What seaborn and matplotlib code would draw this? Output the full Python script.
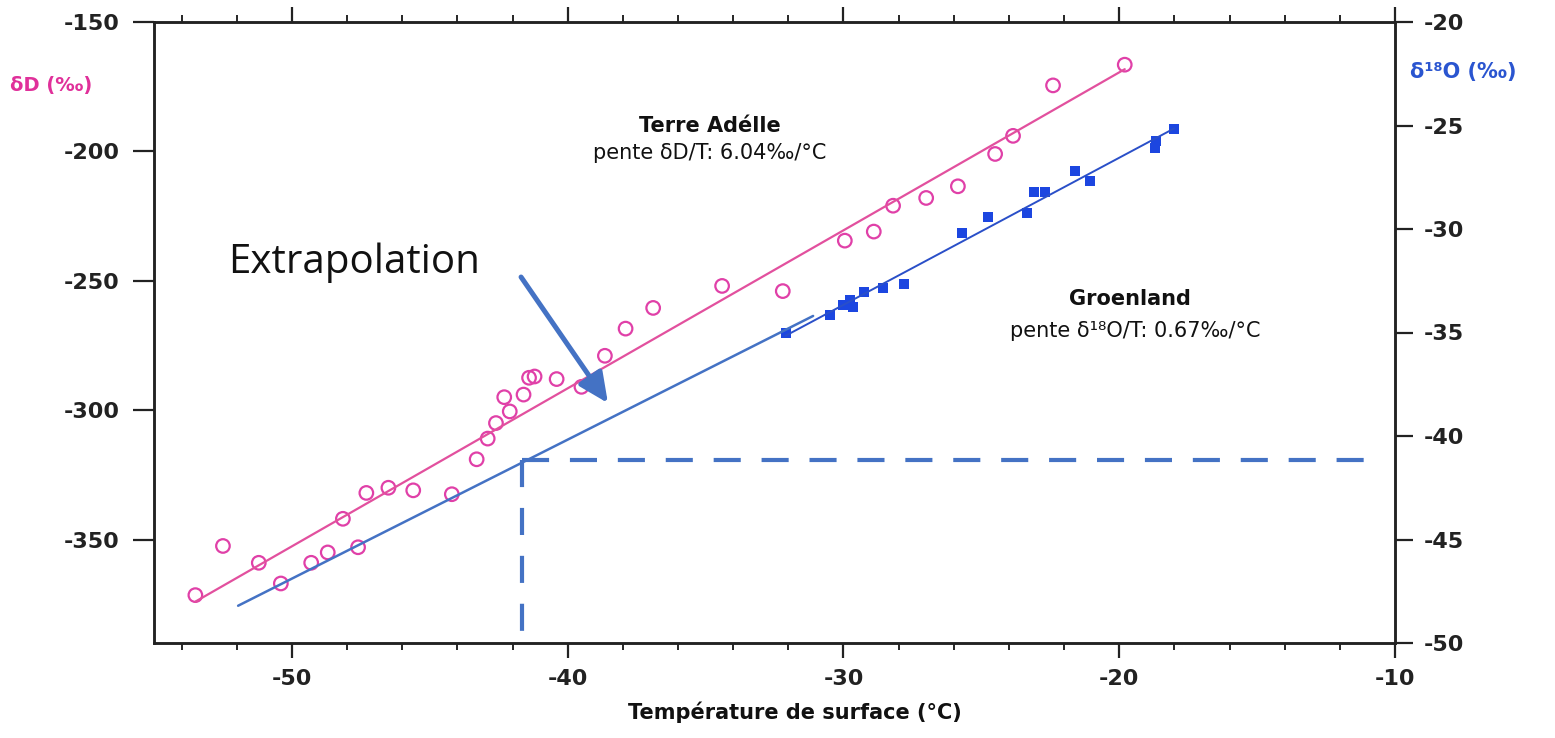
import numpy as np
import pandas as pd
import seaborn as sns
import matplotlib.pyplot as plt
from matplotlib.ticker import MultipleLocator

# Terre Adelie : temperature de surface (degC) et deltaD (permil)
ta_temp = [-53.5, -52.5, -51.2, -50.4, -49.3, -48.7, -48.15, -47.6, -47.3, -46.5,
           -45.6, -44.2, -43.3, -42.9, -42.6, -42.3, -42.1, -41.6, -41.4, -41.2,
           -40.4, -39.5, -38.65, -37.9, -36.9, -34.4, -32.2, -29.95, -28.9, -28.2,
           -27.0, -25.85, -24.5, -23.85, -22.4, -19.8]
ta_dD = [-371.5, -352.5, -359.0, -367.0, -359.0, -355.0, -342.0, -353.0, -332.0, -330.0,
         -331.0, -332.5, -319.0, -311.0, -305.0, -295.0, -300.5, -294.0, -287.5, -287.0,
         -288.0, -291.0, -279.0, -268.5, -260.5, -252.0, -254.0, -234.5, -231.0, -221.0,
         -218.0, -213.5, -201.0, -194.0, -174.5, -166.5]

# Groenland : temperature de surface (degC) et delta18O (permil)
gr_temp = [-32.1, -30.5, -30.0, -29.75, -29.65, -29.25, -28.55, -27.8, -25.7, -24.75,
           -23.35, -23.1, -22.7, -21.6, -21.05, -18.7, -18.65, -18.0]
gr_d18O = [-35.0, -34.15, -33.65, -33.45, -33.75, -33.05, -32.85, -32.65, -30.2, -29.4,
           -29.25, -28.2, -28.2, -27.2, -27.7, -26.1, -25.75, -25.15]

# droite d'extrapolation et lecture en pointilles (axe delta18O)
extrap_temp = [-51.95, -31.1]
extrap_d18O = [-48.2, -34.2]
read_temp = -41.66
read_d18O = -41.16

PINK = '#e040a8'
PINK_LINE = '#e2509e'
BLUE = '#1c46e0'
BLUE_LINE = '#2a4fc8'
OFFICE_BLUE = '#4472C4'

sns.set_theme(style='ticks')
plt.rcParams['font.family'] = ['DejaVu Sans']
plt.rcParams['axes.unicode_minus'] = False

W, H = 1555, 738
fig = plt.figure(figsize=(W / 100, H / 100), dpi=100)
ax = fig.add_axes([154 / W, 1 - 643 / H, (1395 - 154) / W, (643 - 22) / H])
ax2 = ax.twinx()

df_ta = pd.DataFrame({'temp': ta_temp, 'dD': ta_dD})
df_gr = pd.DataFrame({'temp': gr_temp, 'd18O': gr_d18O})

sns.regplot(data=df_ta, x='temp', y='dD', ax=ax, ci=None, marker='o',
            scatter_kws=dict(s=95, facecolors='none', color=PINK, linewidths=1.6, alpha=1),
            line_kws=dict(color=PINK_LINE, lw=1.6))
sns.regplot(data=df_gr, x='temp', y='d18O', ax=ax2, ci=None, marker='s',
            scatter_kws=dict(s=60, color=BLUE, linewidths=0, alpha=1),
            line_kws=dict(color=BLUE_LINE, lw=1.4))

# extrapolation
ax2.plot(extrap_temp, extrap_d18O, color=OFFICE_BLUE, lw=1.8)
ax2.plot([read_temp, -10.6], [read_d18O, read_d18O], color=OFFICE_BLUE, lw=3,
         dashes=(6.5, 5))
ax2.plot([read_temp, read_temp], [read_d18O, -50], color=OFFICE_BLUE, lw=3,
         dashes=(6.5, 5))
ax2.annotate('', xy=(-38.54, -38.41), xytext=(-41.69, -32.32),
             arrowprops=dict(arrowstyle='-|>,head_length=0.6,head_width=0.28',
                             mutation_scale=30, lw=3.6, color=OFFICE_BLUE,
                             shrinkA=0, shrinkB=0))

ax.set_xlim(-55, -10)
ax.set_ylim(-390, -150)
ax2.set_ylim(-50, -20)
ax.set_xticks([-50, -40, -30, -20, -10])
ax.xaxis.set_minor_locator(MultipleLocator(2))
ax.set_yticks([-150, -200, -250, -300, -350])
ax2.set_yticks([-20, -25, -30, -35, -40, -45, -50])
ax.set_xlabel('')
ax.set_ylabel('')
ax2.set_ylabel('')

ax.tick_params(axis='x', which='major', top=True, direction='out', length=11, width=1.6,
               labelsize=16, pad=8, colors='#222')
ax.tick_params(axis='x', which='minor', top=True, direction='out', length=5, width=1.4)
ax.tick_params(axis='y', direction='out', length=15, width=1.6, labelsize=16, pad=10,
               colors='#222')
ax2.tick_params(axis='y', direction='out', length=13, width=1.6, labelsize=16, pad=8,
                colors='#222')
for lab in ax.get_xticklabels() + ax.get_yticklabels() + ax2.get_yticklabels():
    lab.set_fontweight('bold')
for a in (ax, ax2):
    for sp in a.spines.values():
        sp.set_linewidth(1.8)
        sp.set_color('#222')


def ftext(x, y, s, **kw):
    fig.text(x / W, 1 - y / H, s, **kw)


ftext(710, 126, 'Terre Adélle', ha='center', va='center', fontsize=15, fontweight='bold',
      color='#111')
ftext(710, 153, 'pente δD/T: 6.04‰/°C', ha='center', va='center', fontsize=15,
      color='#111')
ftext(1130, 299, 'Groenland', ha='center', va='center', fontsize=15, fontweight='bold',
      color='#111')
ftext(1135, 331, 'pente δ¹⁸O/T: 0.67‰/°C', ha='center', va='center', fontsize=15,
      color='#111')
ftext(10, 85, 'δD (‰)', ha='left', va='center', fontsize=14, fontweight='bold',
      color='#e0309a')
ftext(1410, 72, 'δ¹⁸O (‰)', ha='left', va='center', fontsize=15, fontweight='bold',
      color='#2a55d0')
ftext(795, 712, 'Température de surface (°C)', ha='center', va='center', fontsize=15,
      fontweight='bold', color='#111')
ftext(228, 273, 'Extrapolation', ha='left', va='baseline', fontsize=29,
      family=['Open Sans', 'DejaVu Sans'], color='#111')

fig.savefig('out.png', dpi=100)
